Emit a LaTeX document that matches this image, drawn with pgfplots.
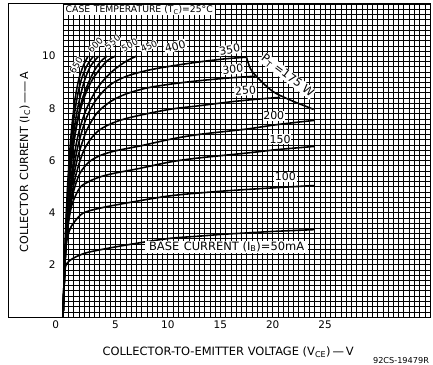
\documentclass[border=0pt]{standalone}
\usepackage{pgfplots}
\pgfplotsset{compat=1.18}
\usepackage{fontspec}
\setmainfont{DejaVu Sans}
\tikzset{lbl/.style={fill=white, inner sep=0.8pt, font=\fontsize{11}{13}\selectfont},
  slbl/.style={fill=white, inner sep=0.4pt, font=\fontsize{9}{10}\selectfont}}
\begin{document}
\begin{tikzpicture}
\begin{axis}[
  scale only axis, width=367bp, height=313bp,
  xmin=0, xmax=35, ymin=0, ymax=12,
  xtick={0,2.5,...,35}, xticklabels={\llap{0\hspace{4bp}},,5,,10,,15,,20,,25,,,,,},
  ytick={0,1,...,12}, yticklabels={,,2,,4,,6,,8,,10,,},
  minor x tick num=4, minor y tick num=4,
  grid=both,
  major grid style={black, line width=0.9pt},
  minor grid style={black, line width=0.45pt},
  major tick length=0pt, minor tick length=0pt,
  axis line style={black, line width=1pt},
  tick label style={font=\fontsize{10.5}{12}\selectfont},
  yticklabel style={xshift=-4bp},
  /pgf/number format/assume math mode=true,
  xlabel={COLLECTOR-TO-EMITTER VOLTAGE (V\textsubscript{CE})\,—\,V},
  xlabel style={at={(axis description cs:0.45,-0.112)}, anchor=center, font=\fontsize{11.5}{13}\selectfont},
  ylabel={COLLECTOR\hspace{0.4em}CURRENT (I\textsubscript{C})\,——\,A},
  ylabel style={at={(axis description cs:-0.1035,0.495)}, anchor=center, font=\fontsize{11.2}{13}\selectfont},
  clip=false,
  no markers,
  every axis plot post/.append style={black, solid, line width=1.6pt, smooth, tension=0.5},
]
% frame of the left panel
\draw[line width=1pt] (axis cs:-5.2,0) rectangle (axis cs:0,12);
\coordinate (O) at (rel axis cs:0,0);

% IB = 50 mA
\addplot coordinates {(0,0) (0.12,1.5) (0.25,1.95) (0.6,2.15) (1.2,2.3) (2.3,2.47) (4.5,2.65) (7.4,2.85) (10.3,3.02) (13,3.1) (15.2,3.17) (17.4,3.22) (20,3.28) (24,3.35)};
% 100
\addplot coordinates {(0,0) (0.15,2.0) (0.35,2.9) (0.65,3.35) (1.0,3.6) (1.9,3.98) (3.6,4.18) (6.2,4.38) (10.3,4.65) (15,4.82) (20,4.95) (24,5.04)};
% 150
\addplot coordinates {(0,0) (0.2,2.2) (0.45,3.4) (0.85,4.3) (1.6,4.95) (2.5,5.2) (3.6,5.38) (5,5.52) (7.1,5.68) (10.3,5.95) (13,6.1) (17.4,6.28) (20.5,6.42) (24,6.54)};
% 200
\addplot coordinates {(0,0) (0.25,2.5) (0.55,3.8) (1.0,4.8) (1.6,5.5) (2.5,5.95) (3.6,6.2) (5,6.37) (7.5,6.57) (10.3,6.82) (13,7.0) (17.4,7.2) (20.5,7.38) (24,7.54)};
% 250
\addplot coordinates {(0,0) (0.25,2.6) (0.65,4.2) (1.2,5.4) (2,6.4) (3,7.0) (4,7.3) (5.5,7.55) (7.5,7.75) (10.3,7.97) (13,8.1) (16,8.25) (18.5,8.35) (20.7,8.42)};
% 300
\addplot coordinates {(0,0) (0.3,3) (0.75,4.8) (1.4,6.1) (2.2,7.1) (3.2,7.8) (4.5,8.25) (6,8.55) (8,8.78) (10.3,8.93) (13,9.06) (16,9.17) (18.3,9.23)};
% 350
\addplot coordinates {(0,0) (0.3,3) (0.75,5) (1.4,6.5) (2.2,7.6) (3.2,8.35) (4.5,8.9) (6,9.22) (8,9.45) (10.3,9.62) (13,9.78) (15.5,9.9) (17.5,9.96)};
% 400
\addplot coordinates {(0,0) (0.3,3.1) (0.7,5) (1.2,6.5) (1.8,7.5) (2.6,8.3) (3.6,8.95) (4.8,9.45) (6,9.8) (7,10)};
% 450
\addplot coordinates {(0,0) (0.28,3) (0.6,5) (1.0,6.6) (1.5,7.7) (2.1,8.5) (2.8,9.1) (3.6,9.55) (4.3,9.85) (5,10)};
% 500
\addplot coordinates {(0,0) (0.27,3) (0.55,4.9) (0.9,6.3) (1.3,7.4) (1.8,8.3) (2.4,8.95) (3.0,9.45) (3.6,9.8) (4.2,10)};
% 550
\addplot coordinates {(0,0) (0.24,2.8) (0.48,4.6) (0.78,6.2) (1.1,7.3) (1.5,8.2) (2.0,9.0) (2.6,9.6) (3.4,10)};
% 600
\addplot coordinates {(0,0) (0.22,2.8) (0.43,4.7) (0.68,6.2) (0.97,7.4) (1.32,8.35) (1.75,9.1) (2.3,9.65) (2.9,10)};
% 650
\addplot coordinates {(0,0) (0.2,2.8) (0.4,4.7) (0.62,6.2) (0.87,7.4) (1.15,8.35) (1.5,9.1) (1.95,9.65) (2.4,10)};
% PT = 175 W
\addplot coordinates {(17.5,9.96) (17.9,9.5) (18.7,9.12) (20.0,8.65) (21.6,8.33) (23.9,7.96)};

\node[slbl, rotate=60] at (axis cs:1.25,9.65) {650};
\node[slbl, rotate=45] at (axis cs:3.09,10.42) {600};
\node[slbl, rotate=40] at (axis cs:4.73,10.54) {550};
\node[slbl, rotate=30] at (axis cs:6.36,10.42) {500};
\node[slbl, rotate=25] at (axis cs:8.2,10.38) {450};
\node[lbl, rotate=15] at (axis cs:10.7,10.38) {400};
\node[lbl, rotate=10] at (axis cs:15.9,10.25) {350};
\node[lbl, rotate=5] at (axis cs:16.2,9.5) {300};
\node[lbl, rotate=5] at (axis cs:17.4,8.68) {250};
\node[lbl] at (axis cs:20.1,7.72) {200};
\node[lbl] at (axis cs:20.7,6.82) {150};
\node[lbl] at (axis cs:21.2,5.37) {100};
\node[lbl, rotate=-37, font=\fontsize{11.5}{13}\selectfont] at (axis cs:21.4,9.25) {P\textsubscript{T} =175 W};
\node[lbl, inner xsep=4pt, font=\fontsize{11.5}{13}\selectfont] at (axis cs:15.6,2.7) {BASE\hspace{0.4em}CURRENT (I\textsubscript{B})=50mA};
\node[lbl, anchor=north west, inner xsep=2pt, font=\fontsize{9.3}{11}\selectfont] at (axis cs:0.05,11.97) {CASE\hspace{0.4em}TEMPERATURE (T\textsubscript{C})=25°C};
\node[font=\fontsize{8.2}{9}\selectfont] at (axis description cs:0.921,-0.1406) {92CS-19479R};
\end{axis}
\pgfresetboundingbox
\path ([shift={(-63bp,-48bp)}]O) rectangle ([shift={(370bp,317bp)}]O);
\end{tikzpicture}
\end{document}
